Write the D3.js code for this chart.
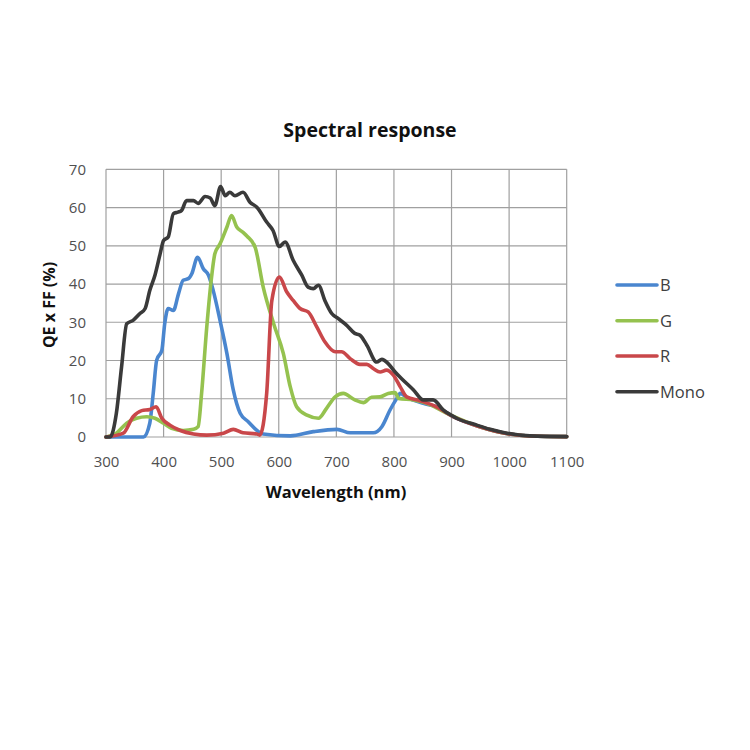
<!DOCTYPE html>
<html><head><meta charset="utf-8">
<script src="https://cdn.jsdelivr.net/npm/d3@7"></script>
<style>body{margin:0;background:#fff;}svg{display:block;}</style>
</head><body><div id="chart"></div>
<script>
const xTicks = [300,400,500,600,700,800,900,1000,1100];
const yTicks = [0,10,20,30,40,50,60,70];

const monoWl = [300,307,318,327,336,347,359,368,376,385,394,400,408,417,425,431,440,452,460,472,481,489,499,507,515,524,538,550,562,579,590,601,611,625,640,651,660,669,680,692,703,718,732,741,753,770,779,790,802,813,834,851,868,886,909,944,967,996,1036,1100];
const monoQE = [0,0,6.2,18.3,29.6,30.5,32.3,33.6,38.3,42.3,47.9,51.4,52.3,58.4,58.8,59.2,61.8,61.8,61.1,62.9,62.5,60.5,65.5,63.1,64.0,63.1,64.0,61.4,60.1,56.2,54.0,49.8,51.0,46.2,42.3,39.2,38.8,39.7,35.7,32.3,31.0,29.2,27.1,26.6,24.0,19.6,20.3,19.2,17.0,15.3,12.3,9.7,9.7,7.0,4.9,3.1,2.0,1.0,0.3,0.1];

const bWl = [300,365,376,382,388,397,402,408,417,426,434,443,449,459,469,478,486,498,510,521,533,547,565,573,620,660,701,724,764,779,793,805,811,822,851,874,903,949,1000,1050,1100];
const bQE = [0,0,3.6,11.4,20.1,22.7,29.7,33.6,33.1,37.5,41.0,41.4,42.7,47.0,44.0,42.3,38.4,30.5,21.8,12.3,6.2,4.0,1.4,0.8,0.3,1.4,2.0,1.1,1.1,2.7,7.0,10.1,11.4,10.4,8.8,7.9,5.3,2.7,0.8,0.2,0.1];

const gWl = [300,318,336,353,371,385,400,414,434,452,460,466,475,484,489,498,510,518,527,538,545,559,573,591,608,620,631,649,669,683,698,712,732,747,761,776,790,802,808,834,857,892,949,1000,1050,1100];
const gQE = [0,1.0,3.6,4.9,5.3,4.9,3.6,2.3,1.7,2.0,2.7,11.4,28.8,42.7,47.9,50.5,54.9,57.9,54.9,53.5,52.5,49.6,39.2,29.7,21.8,13.1,7.9,5.7,4.9,7.5,10.5,11.4,9.7,9.0,10.4,10.5,11.4,11.6,10.1,9.7,8.8,6.2,2.7,0.8,0.2,0.1];

const rWl = [300,330,347,362,376,387,397,411,429,452,475,504,521,538,562,567,579,588,601,614,625,637,651,666,680,698,709,724,741,753,764,776,787,799,811,822,845,874,903,949,1000,1050,1100];
const rQE = [0,1.0,5.3,6.9,7.2,7.9,4.9,3.1,1.7,0.8,0.5,1.0,2.0,1.1,0.8,0.5,11.4,35.7,41.8,37.9,35.7,33.6,32.7,28.8,24.9,22.3,22.3,20.5,19.0,19.0,17.9,17.0,17.5,16.2,13.1,10.5,9.5,7.9,5.3,2.7,0.8,0.2,0.1];

const seriesNames = ["B","G","R","Mono"];
const seriesColors = ["#4a86cf","#95c24f","#c9474a","#3a3a3a"];
const seriesWl = [bWl,gWl,rWl,monoWl];
const seriesQE = [bQE,gQE,rQE,monoQE];

const W = 750, H = 750;
const svg = d3.select("#chart").append("svg").attr("width",W).attr("height",H);
svg.append("rect").attr("width",W).attr("height",H).attr("fill","#fff");

const x = d3.scaleLinear().domain([300,1100]).range([106,566.7]);
const y = d3.scaleLinear().domain([0,70]).range([437,169.3]);
const font = "'Open Sans', 'Liberation Sans', sans-serif";

// grid
const grid = svg.append("g");
grid.selectAll("line.v").data(xTicks).join("line")
  .attr("x1",d=>x(d)).attr("x2",d=>x(d)).attr("y1",y(0)).attr("y2",y(70))
  .attr("stroke","#a0a0a0").attr("stroke-width",1.2);
grid.selectAll("line.h").data(yTicks).join("line")
  .attr("y1",d=>y(d)).attr("y2",d=>y(d)).attr("x1",x(300)).attr("x2",x(1100))
  .attr("stroke","#a0a0a0").attr("stroke-width",1.2);

// axes (labels only)
const xAxis = svg.append("g").attr("transform",`translate(0,${y(0)})`)
  .call(d3.axisBottom(x).tickValues(xTicks).tickSize(0).tickPadding(19).tickFormat(d3.format("d")));
xAxis.select(".domain").remove();
xAxis.selectAll("text").attr("font-family",font).attr("font-size",15).attr("fill","#505050");

const yAxis = svg.append("g").attr("transform",`translate(${x(300)},0)`)
  .call(d3.axisLeft(y).tickValues(yTicks).tickSize(0).tickPadding(20));
yAxis.select(".domain").remove();
yAxis.selectAll("text").attr("font-family",font).attr("font-size",15).attr("fill","#505050");

// lines
const line = d3.line().x(d=>x(d[0])).y(d=>y(d[1])).curve(d3.curveMonotoneX);
seriesNames.forEach((n,i)=>{
  const pts = seriesWl[i].map((w,j)=>[w,seriesQE[i][j]]);
  svg.append("path").datum(pts).attr("d",line)
    .attr("fill","none").attr("stroke",seriesColors[i]).attr("stroke-width",3.6)
    .attr("stroke-linejoin","round").attr("stroke-linecap","round");
});

// title
svg.append("text").attr("x",370).attr("y",137).attr("text-anchor","middle")
  .attr("font-family",font).attr("font-weight","bold").attr("font-size",19.5).attr("fill","#111")
  .text("Spectral response");
svg.append("text").attr("x",336).attr("y",498).attr("text-anchor","middle")
  .attr("font-family",font).attr("font-weight","bold").attr("font-size",16.5).attr("fill","#111")
  .text("Wavelength (nm)");
svg.append("text").attr("transform","translate(55,305) rotate(-90)").attr("text-anchor","middle")
  .attr("font-family",font).attr("font-weight","bold").attr("font-size",16).attr("fill","#111")
  .text("QE x FF (%)");

// legend
const legY = [285,320.7,356,391.7];
const leg = svg.append("g");
seriesNames.forEach((n,i)=>{
  leg.append("line").attr("x1",617).attr("x2",657).attr("y1",legY[i]).attr("y2",legY[i])
    .attr("stroke",seriesColors[i]).attr("stroke-width",3.6).attr("stroke-linecap","round");
  leg.append("text").attr("x",660).attr("y",legY[i]+6)
    .attr("font-family",font).attr("font-size",16.5).attr("fill","#404040").text(n);
});
</script>
</body></html>
